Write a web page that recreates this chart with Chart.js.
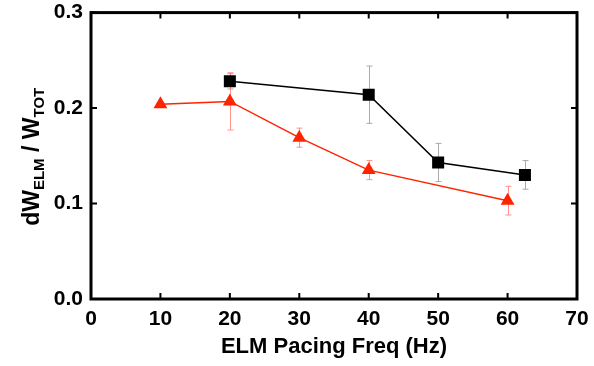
<!DOCTYPE html>
<html>
<head>
<meta charset="utf-8">
<script src="https://cdn.jsdelivr.net/npm/chart.js@4/dist/chart.umd.min.js"></script>
<style>
  html, body { margin: 0; padding: 0; background: #fff; }
  #wrap { width: 594px; height: 366px; }
</style>
</head>
<body>
<div id="wrap"><canvas id="myChart" width="594" height="366"></canvas></div>
<script>
// values
const blackFreq = [20, 40, 50, 62.5];
const blackValues = [0.228, 0.214, 0.143, 0.130];
const blackErr = [0.008, 0.030, 0.020, 0.015];

const redFreq = [10, 20, 30, 40, 60];
const redValues = [0.204, 0.207, 0.169, 0.135, 0.103];
const redErr = [0, 0.030, 0.010, 0.010, 0.015];

const xTicks = [0, 10, 20, 30, 40, 50, 60, 70];
const yTicks = [0.0, 0.1, 0.2, 0.3];

const blackColor = "#000000";
const redColor = "#ff2400";
const fontFamily = '"Liberation Sans", Arial, sans-serif';
const narrowFamily = '"Liberation Sans Narrow", ' + fontFamily;

function toPoints(xs, ys) {
  return xs.map((x, i) => ({ x: x, y: ys[i] }));
}

// error bars, frame and inward ticks, drawn through the chart scales
const errorBarPlugin = {
  id: "errorBars",
  beforeDatasetsDraw(chart) {
    const ctx = chart.ctx;
    const xs = chart.scales.x;
    const ys = chart.scales.y;
    const sets = [
      { f: blackFreq, v: blackValues, e: blackErr, c: "rgba(150,150,150,0.8)" },
      { f: redFreq, v: redValues, e: redErr, c: "rgba(255,120,110,0.8)" },
    ];
    ctx.save();
    ctx.lineWidth = 1;
    sets.forEach((s) => {
      ctx.strokeStyle = s.c;
      s.f.forEach((f, i) => {
        if (!s.e[i]) return;
        const px = Math.round(xs.getPixelForValue(f)) + 0.5;
        const top = ys.getPixelForValue(s.v[i] + s.e[i]);
        const bot = ys.getPixelForValue(s.v[i] - s.e[i]);
        ctx.beginPath();
        ctx.moveTo(px, top);
        ctx.lineTo(px, bot);
        ctx.moveTo(px - 3, top);
        ctx.lineTo(px + 3, top);
        ctx.moveTo(px - 3, bot);
        ctx.lineTo(px + 3, bot);
        ctx.stroke();
      });
    });
    ctx.restore();
  },
  afterDraw(chart) {
    const ctx = chart.ctx;
    const a = chart.chartArea;
    const xs = chart.scales.x;
    const ys = chart.scales.y;
    ctx.save();
    ctx.strokeStyle = "#000";
    ctx.lineWidth = 2;
    xTicks.forEach((t) => {
      const px = xs.getPixelForValue(t);
      ctx.beginPath();
      ctx.moveTo(px, a.bottom);
      ctx.lineTo(px, a.bottom - 6);
      ctx.moveTo(px, a.top);
      ctx.lineTo(px, a.top + 6);
      ctx.stroke();
    });
    yTicks.forEach((t) => {
      const py = ys.getPixelForValue(t);
      ctx.beginPath();
      ctx.moveTo(a.left, py);
      ctx.lineTo(a.left + 6, py);
      ctx.moveTo(a.right, py);
      ctx.lineTo(a.right - 6, py);
      ctx.stroke();
    });
    ctx.lineWidth = 3;
    ctx.strokeRect(a.left, a.top, a.right - a.left, a.bottom - a.top);

    // y axis title with subscripts
    ctx.translate(31, (a.top + a.bottom) / 2 + 1);
    ctx.rotate(-Math.PI / 2);
    ctx.fillStyle = "#000";
    ctx.textBaseline = "alphabetic";
    const big = "bold 23px " + narrowFamily;
    const small = "bold 15px " + narrowFamily;
    const parts = [
      { t: "dW", f: big, dy: 0 },
      { t: "ELM", f: small, dy: 5 },
      { t: " / W", f: big, dy: 0 },
      { t: "TOT", f: small, dy: 5 },
    ];
    let total = 0;
    parts.forEach((p) => {
      ctx.font = p.f;
      total += ctx.measureText(p.t).width;
    });
    let x0 = -total / 2;
    parts.forEach((p) => {
      ctx.font = p.f;
      ctx.fillText(p.t, x0, 8 + p.dy);
      x0 += ctx.measureText(p.t).width;
    });
    ctx.restore();
  },
};

const ctx = document.getElementById("myChart");
const myChart = new Chart(ctx, {
  type: "scatter",
  data: {
    datasets: [
      {
        label: "black",
        data: toPoints(blackFreq, blackValues),
        showLine: true,
        borderColor: blackColor,
        borderWidth: 1.5,
        pointStyle: "rect",
        pointRadius: 8.5,
        pointBackgroundColor: blackColor,
        pointBorderColor: blackColor,
        pointBorderWidth: 0,
      },
      {
        label: "red",
        data: toPoints(redFreq, redValues),
        showLine: true,
        borderColor: redColor,
        borderWidth: 1.5,
        pointStyle: "triangle",
        pointRadius: 8,
        pointBackgroundColor: redColor,
        pointBorderColor: redColor,
        pointBorderWidth: 0,
      },
    ],
  },
  options: {
    responsive: false,
    animation: false,
    layout: { padding: { top: 6, right: 17, left: 0, bottom: 0 } },
    scales: {
      x: {
        type: "linear",
        min: 0,
        max: 70,
        afterBuildTicks: (s) => { s.ticks = xTicks.map((v) => ({ value: v })); },
        afterFit: (s) => { s.height = 67; },
        grid: { display: false },
        border: { display: false },
        ticks: {
          padding: 0,
          color: "#000",
          font: { family: fontFamily, size: 21, weight: "bold" },
        },
        title: {
          display: true,
          text: "ELM Pacing Freq (Hz)",
          color: "#000",
          padding: { top: 2, bottom: 6 },
          font: { family: narrowFamily, size: 22, weight: "bold" },
        },
      },
      y: {
        type: "linear",
        min: 0,
        max: 0.3,
        afterBuildTicks: (s) => { s.ticks = yTicks.map((v) => ({ value: v })); },
        afterFit: (s) => { s.width = 91; },
        grid: { display: false },
        border: { display: false },
        ticks: {
          padding: 0,
          color: "#000",
          font: { family: fontFamily, size: 21, weight: "bold" },
          callback: (v) => v.toFixed(1),
        },
      },
    },
    plugins: {
      legend: { display: false },
      tooltip: { enabled: false },
    },
  },
  plugins: [errorBarPlugin],
});
</script>
</body>
</html>
